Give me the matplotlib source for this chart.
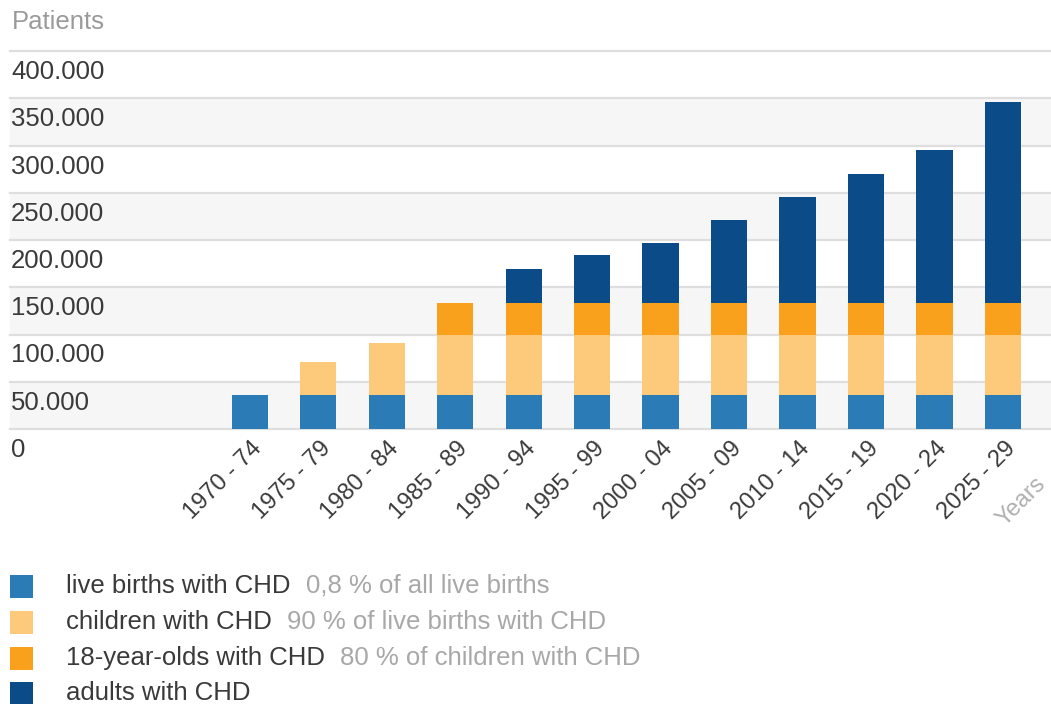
import matplotlib
matplotlib.use("Agg")
import matplotlib.pyplot as plt
from matplotlib.transforms import ScaledTranslation, blended_transform_factory
from matplotlib.patches import Rectangle

plt.rcParams["font.family"] = ["Liberation Sans", "DejaVu Sans"]

# periods (5-year cohorts)
periods = ["1970 - 74", "1975 - 79", "1980 - 84", "1985 - 89", "1990 - 94",
           "1995 - 99", "2000 - 04", "2005 - 09", "2010 - 14", "2015 - 19",
           "2020 - 24", "2025 - 29"]

# patients per group, stacked bottom to top
live_births = [36500, 36500, 36500, 36500, 36500, 36500,
               36500, 36500, 36500, 36500, 36500, 36500]
children = [0, 34500, 54500, 63500, 63500, 63500,
            63500, 63500, 63500, 63500, 63500, 63500]
teens = [0, 0, 0, 33500, 33500, 33500,
         33500, 33500, 33500, 33500, 33500, 33500]
adults = [0, 0, 0, 0, 35500, 50500,
          63000, 87500, 112000, 136500, 162000, 212500]

y_ticks = [0, 50000, 100000, 150000, 200000, 250000, 300000, 350000, 400000]
y_labels = ["0", "50.000", "100.000", "150.000", "200.000", "250.000",
            "300.000", "350.000", "400.000"]

series_names = ["live births with CHD", "children with CHD",
                "18-year-olds with CHD", "adults with CHD"]
series_notes = ["0,8 % of all live births", "90 % of live births with CHD",
                "80 % of children with CHD", ""]
colors = ["#2b7bb7", "#fdc97b", "#f9a11c", "#0a4b88"]

W, H = 1051, 704
fig = plt.figure(figsize=(W / 100, H / 100), dpi=100)
ax = fig.add_axes([10 / W, (H - 429) / H, (W - 10) / W, (429 - 51) / H])
ax.set_xlim(-3.5, 11.7)
ax.set_ylim(0, 400000)
for s in ax.spines.values():
    s.set_visible(False)

# alternating background bands + grid
for i in range(len(y_ticks) - 1):
    if i % 2 == 0:
        ax.axhspan(y_ticks[i], y_ticks[i + 1], color="#f6f6f6", zorder=0, lw=0)
for v in y_ticks:
    ax.axhline(v, color="#dedede", lw=1.6, zorder=1, clip_on=False)

x = list(range(len(periods)))
bottom = [0] * len(periods)
for vals, c in zip([live_births, children, teens, adults], colors):
    ax.bar(x, vals, width=0.53, bottom=bottom, color=c, zorder=2, lw=0)
    bottom = [b + v for b, v in zip(bottom, vals)]

# y labels sit inside the plot, just under each grid line
trans = blended_transform_factory(ax.transAxes, ax.transData)
for v, lab in zip(y_ticks, y_labels):
    t = ax.text(0, v, lab, transform=trans, ha="left", va="top",
                fontsize=18.5, color="#3a3a3a")
    t.set_transform(trans + ScaledTranslation(0.01, -0.09, fig.dpi_scale_trans))
ax.set_yticks([])

ax.set_xticks(x)
ax.set_xticklabels(periods, rotation=45, ha="right", va="center",
                   rotation_mode="anchor", fontsize=17, color="#3a3a3a")
ax.tick_params(axis="x", length=0, pad=0)
for lab in ax.get_xticklabels():
    lab.set_transform(lab.get_transform() + ScaledTranslation(0.09, -0.16, fig.dpi_scale_trans))

fig.text(1021 / W, (H - 502) / H, "Years", rotation=45, ha="center", va="center",
         fontsize=17, color="#b0b0b0")
fig.text(12 / W, (H - 22) / H, "Patients", ha="left", va="center",
         fontsize=18.5, color="#9a9a9a")

# legend rows
row_y = [586, 622, 658, 693]
renderer = fig.canvas.get_renderer()
for name, note, c, yy in zip(series_names, series_notes, colors, row_y):
    fig.patches.append(Rectangle((10 / W, (H - yy - 11.5) / H), 23 / W, 23 / H,
                                 transform=fig.transFigure, color=c, lw=0))
    t = fig.text(66 / W, (H - yy) / H, name, ha="left", va="center",
                 fontsize=18.5, color="#3a3a3a")
    if note:
        bb = t.get_window_extent(renderer)
        fig.text((bb.x1 + 15) / W, (H - yy) / H, note, ha="left", va="center",
                 fontsize=18.5, color="#a8a8a8")

fig.savefig("out.png", dpi=100)
